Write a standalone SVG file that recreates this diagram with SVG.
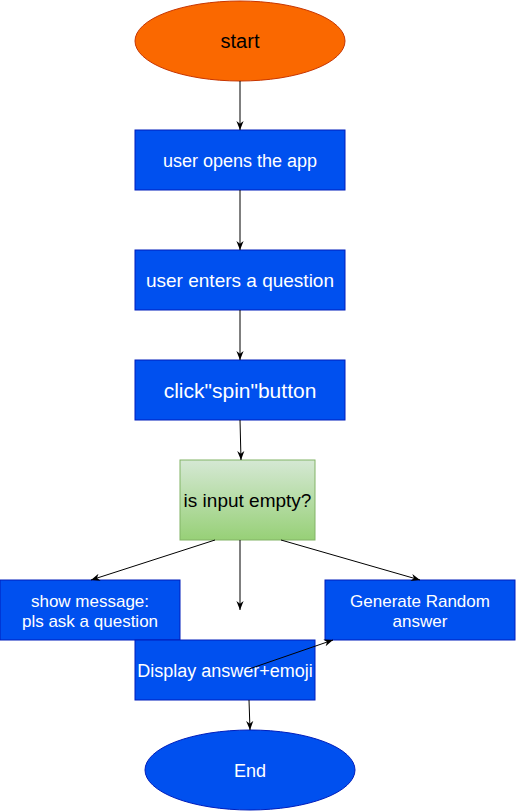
<svg xmlns="http://www.w3.org/2000/svg" width="516" height="811" viewBox="0 0 516 811">
<style>
.t{font-family:"Liberation Sans",Arial,sans-serif;text-anchor:middle}
.w{fill:#ffffff}
.k{fill:#000000}
.box{fill:#0050ef;stroke:#001dbc;stroke-width:1}
.c{stroke:#000;stroke-width:1;fill:none;marker-end:url(#ah)}
</style>
<defs>
<marker id="ah" viewBox="0 0 10 10" refX="10" refY="5" markerWidth="9" markerHeight="9" markerUnits="userSpaceOnUse" orient="auto">
<path d="M0,1 L10,5 L0,9 L3,5 z" fill="#000"/>
</marker>
<linearGradient id="g" x1="0" y1="0" x2="0" y2="1">
<stop offset="0" stop-color="#d5e8d4"/>
<stop offset="1" stop-color="#97d077"/>
</linearGradient>
</defs>
<g id="start">
<ellipse cx="240" cy="41" rx="105" ry="40" fill="#fa6800" stroke="#c73500"/>
<text class="t k" x="240" y="48" font-size="20">start</text>
</g>
<g id="open">
<rect class="box" x="135" y="130" width="210" height="60"/>
<text class="t w" x="240" y="167" font-size="18">user opens the app</text>
</g>
<g id="enter">
<rect class="box" x="135" y="250" width="210" height="60"/>
<text class="t w" x="240" y="287" font-size="19">user enters a question</text>
</g>
<g id="click">
<rect class="box" x="135" y="360" width="210" height="60"/>
<text class="t w" x="240" y="398" font-size="21">click"spin"button</text>
</g>
<g id="empty">
<rect x="180" y="460" width="135" height="80" fill="url(#g)" stroke="#82b366"/>
<text class="t k" x="247.5" y="507" font-size="19">is input empty?</text>
</g>
<g id="show">
<rect class="box" x="0" y="580" width="180" height="60"/>
<text class="t w" x="90" y="607" font-size="17">show message:</text>
<text class="t w" x="90" y="627" font-size="17">pls ask a question</text>
</g>
<g id="generate">
<rect class="box" x="325" y="580" width="190" height="60"/>
<text class="t w" x="420" y="607" font-size="17">Generate Random</text>
<text class="t w" x="420" y="627" font-size="17">answer</text>
</g>
<g id="display">
<rect class="box" x="135" y="640" width="180" height="60"/>
<text class="t w" x="225" y="677" font-size="18">Display answer+emoji</text>
</g>
<g id="end">
<ellipse cx="250" cy="770" rx="105" ry="40" fill="#0050ef" stroke="#001dbc"/>
<text class="t w" x="250" y="777" font-size="18">End</text>
</g>
<g id="connectors">
<line class="c" x1="240" y1="81" x2="240" y2="130"/>
<line class="c" x1="240" y1="190" x2="240" y2="250"/>
<line class="c" x1="240" y1="310" x2="240" y2="360"/>
<line class="c" x1="240" y1="420" x2="241" y2="460"/>
<line class="c" x1="215" y1="540" x2="91" y2="580"/>
<line class="c" x1="240" y1="540" x2="240" y2="610"/>
<line class="c" x1="281" y1="540" x2="420" y2="580"/>
<line class="c" x1="249" y1="669" x2="333" y2="640"/>
<line class="c" x1="249" y1="700" x2="250" y2="730"/>
</g>
</svg>
